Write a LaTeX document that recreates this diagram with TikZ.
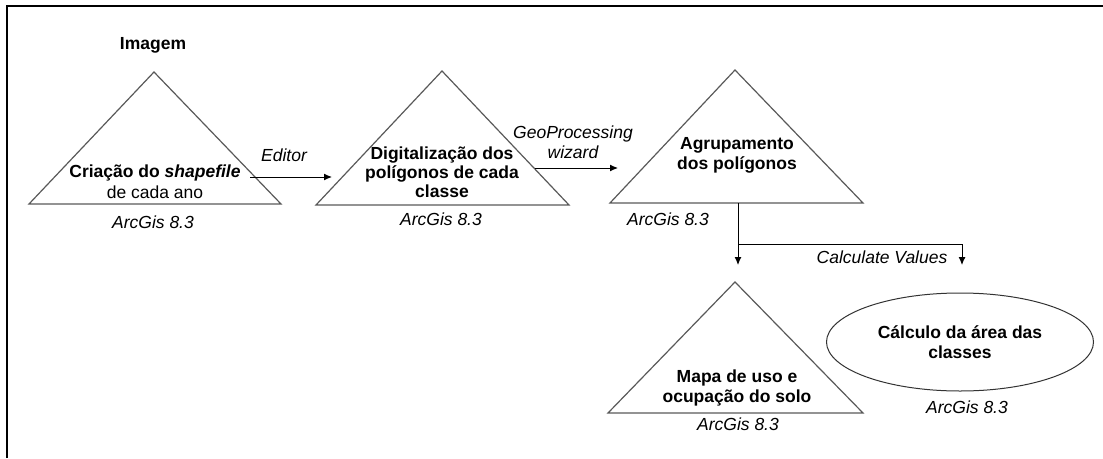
\documentclass[tikz,border=0pt]{standalone}
\usepackage{fontspec}
\setmainfont{Liberation Sans}
\usetikzlibrary{arrows.meta,shapes.geometric}
\tikzset{
  tri/.style={draw=black!65, line width=1.2pt, line join=miter},
  lab/.style={font=\fontsize{17.5}{20}\selectfont, align=center, inner sep=0pt},
  labb/.style={lab, font=\fontsize{17.5}{20}\selectfont\bfseries},
  soft/.style={lab, font=\fontsize{17.5}{20}\selectfont\itshape},
  seta/.style={-{Latex[length=8pt,width=7pt]}, line width=1pt},
}

\begin{document}
\begin{tikzpicture}[x=1pt,y=-1pt]
\useasboundingbox (0,0) rectangle (1103,458);
% moldura
\draw[line width=2pt] (7,458) -- (7,6) -- (1103,6) ;
% triangulo shapefile
\coordinate (A1) at (29,204) ;
\coordinate (B1) at (281,204) ;
\coordinate (C1) at (154,72) ;
\draw[tri] (A1) -- (B1) -- (C1) -- cycle ;
\node[labb] (img) at (153,45) {Imagem} ;
\node[lab] (shp) at (155,182) {\textbf{Criação do \textit{shapefile}}\\[1pt]de cada ano} ;
\node[soft] (arc1) at (153,222) {ArcGis 8.3} ;
% triangulo digitalizacao
\coordinate (A2) at (316,205) ;
\coordinate (B2) at (569,205) ;
\coordinate (C2) at (442,71) ;
\draw[tri] (A2) -- (B2) -- (C2) -- cycle ;
\node[labb, font=\fontsize{17.5}{19}\selectfont\bfseries] (dig) at (442,172) {Digitalização dos\\polígonos de cada\\classe} ;
\node[soft] (arc2) at (441,219) {ArcGis 8.3} ;
% triangulo agrupamento
\coordinate (A3) at (610,203) ;
\coordinate (B3) at (863,203) ;
\coordinate (C3) at (735,70) ;
\draw[tri] (A3) -- (B3) -- (C3) -- cycle ;
\node[labb] (agr) at (737,155) {Agrupamento\\dos polígonos} ;
\node[soft] (arc3) at (668,219) {ArcGis 8.3} ;
% triangulo mapa
\coordinate (A4) at (608,413) ;
\coordinate (B4) at (863,413) ;
\coordinate (C4) at (735,282) ;
\draw[tri] (A4) -- (B4) -- (C4) -- cycle ;
\node[labb] (map) at (737,388) {Mapa de uso e\\ocupação do solo} ;
\node[soft] (arc4) at (738,424) {ArcGis 8.3} ;
% elipse calculo
\node[labb, ellipse, draw=black!80, line width=1pt, minimum width=267, minimum height=98] (calc) at (960,342) {Cálculo da área das\\classes} ;
\node[soft] (arc5) at (967,407) {ArcGis 8.3} ;
% setas
\coordinate (e1) at (250,177) ;
\coordinate (e2) at (332,177) ;
\draw[seta] (e1) -- (e2) ;
\node[soft] (edt) at (284,155) {Editor} ;
\coordinate (g1) at (535,168) ;
\coordinate (g2) at (618,168) ;
\draw[seta] (g1) -- (g2) ;
\node[soft] (geo) at (573,142) {GeoProcessing\\wizard} ;
\coordinate (q1) at (738,203) ;
\coordinate (s1) at (738,244) ;
\coordinate (m1) at (738,265) ;
\coordinate (c1) at (962,265) ;
\draw[seta] (q1) -- (m1) ;
\draw[seta] (s1) -| (c1) ;
\node[soft] (cv) at (882,257) {Calculate Values} ;
\end{tikzpicture}
\end{document}
